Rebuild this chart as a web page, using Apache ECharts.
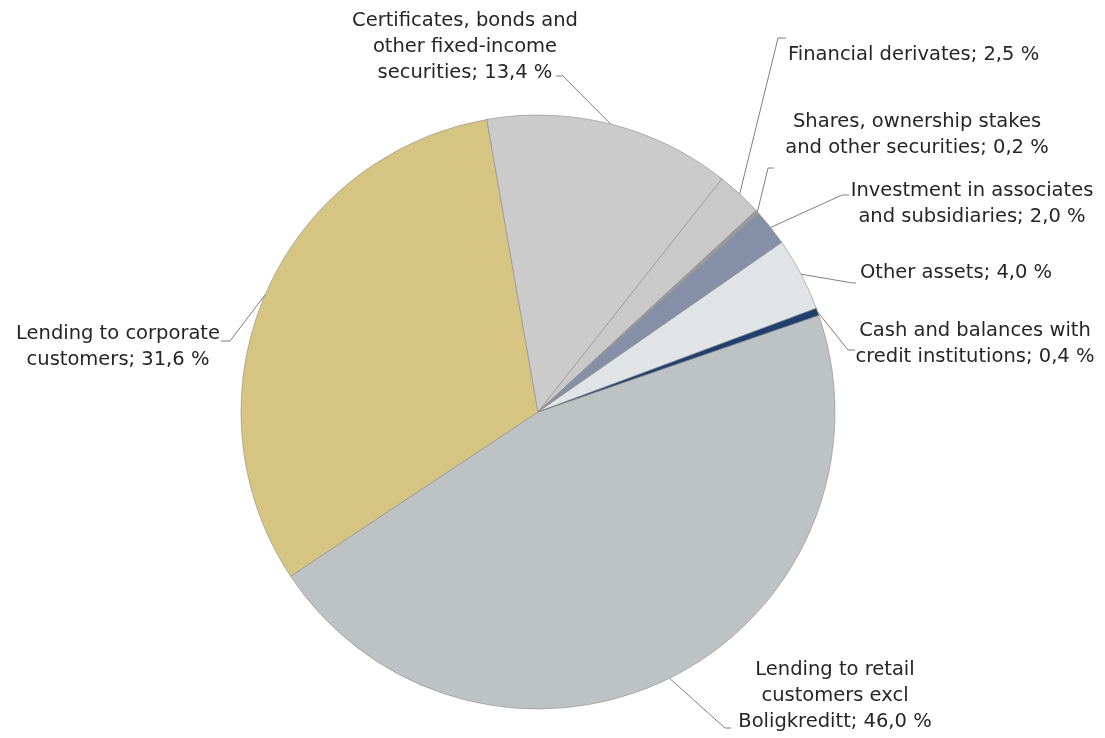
<!DOCTYPE html>
<html lang="en">
<head>
    <meta charset="UTF-8">
    <title>Assets</title>
    <script type="text/javascript" src="https://cdn.jsdelivr.net/npm/echarts@6/dist/echarts.min.js"></script>
    <style>
        html, body { margin: 0; padding: 0; background: #fff; }
        #container { width: 1105px; height: 738px; }
    </style>
</head>
<body>
<div id="container"></div>
<script>
    // data, clockwise from the retail slice
    var categories = [
        "Lending to retail\ncustomers excl\nBoligkreditt",
        "Lending to corporate\ncustomers",
        "Certificates, bonds and\nother fixed-income\nsecurities",
        "Financial derivates",
        "Shares, ownership stakes\nand other securities",
        "Investment in associates\nand subsidiaries",
        "Other assets",
        "Cash and balances with\ncredit institutions"
    ];
    var values = [46.0, 31.6, 13.4, 2.5, 0.2, 2.0, 4.0, 0.4];
    var colors = ["#bdc2c5", "#d6c482", "#cbcbcb", "#c9c9c9", "#9a9a9a", "#8590a8", "#e0e4e7", "#1f3f6e"];

    // label placement: x, y, align, leader elbow, leader end
    var labelPos = [
        [835, 696, "center", [725, 728], [731, 728]],
        [118, 347, "center", [230, 341], [221, 341]],
        [465, 47, "center", [563, 76], [556, 76]],
        [788, 55, "left", [778, 38], [786, 38]],
        [917, 135, "center", [768, 168], [774, 168]],
        [972, 204, "center", [842, 195], [849, 195]],
        [860, 273, "left", [853, 283], [856, 283]],
        [975, 344, "center", [848, 350], [855, 350]]
    ];

    var seriesData = [];
    for (var i = 0; i < values.length; i++) {
        seriesData.push({ name: categories[i], value: values[i], itemStyle: { color: colors[i] } });
    }

    var myChart = echarts.init(document.getElementById("container"));
    var option = {
        animation: false,
        series: [{
            type: 'pie',
            center: [538, 412],
            radius: 297,
            startAngle: 19,
            clockwise: true,
            avoidLabelOverlap: false,
            data: seriesData,
            itemStyle: { borderColor: '#8c8c8c', borderWidth: 0.6 },
            label: {
                show: true,
                position: 'outside',
                overflow: 'none',
                color: '#262626',
                fontFamily: 'DejaVu Sans',
                fontSize: 19.5,
                lineHeight: 26,
                formatter: function (p) {
                    return p.name + '; ' + p.value.toFixed(1).replace('.', ',') + ' %';
                }
            },
            labelLine: {
                show: true,
                length: 20,
                length2: 10,
                lineStyle: { color: '#7f7f7f', width: 1 }
            },
            labelLayout: function (params) {
                var pos = labelPos[params.dataIndex];
                var start = params.labelLinePoints ? params.labelLinePoints[0] : pos[3];
                return {
                    x: pos[0],
                    y: pos[1],
                    align: pos[2],
                    verticalAlign: 'middle',
                    labelLinePoints: [start, pos[3], pos[4]]
                };
            }
        }]
    };
    myChart.setOption(option);
</script>
</body>
</html>
